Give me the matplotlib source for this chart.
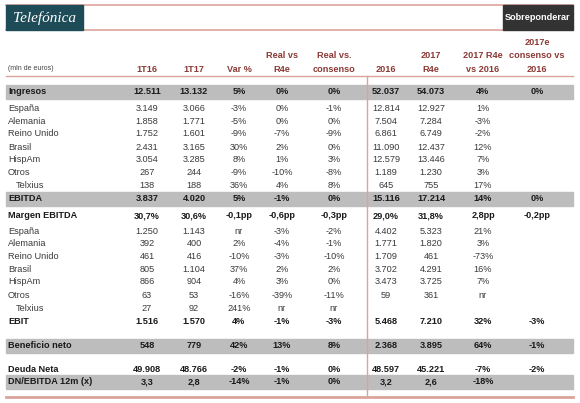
import matplotlib.pyplot as plt
from matplotlib.patches import Rectangle

# Table content (mln de euros)
labels = ['Ingresos', 'España', 'Alemania', 'Reino Unido', 'Brasil', 'HispAm', 'Otros', 'Telxius',
          'EBITDA', 'Margen EBITDA', 'España', 'Alemania', 'Reino Unido', 'Brasil', 'HispAm', 'Otros',
          'Telxius', 'EBIT', 'Beneficio neto', 'Deuda Neta', 'DN/EBITDA 12m (x)']
t16 = ['12.511', '3.149', '1.858', '1.752', '2.431', '3.054', '267', '138', '3.837', '30,7%',
       '1.250', '392', '461', '805', '866', '63', '27', '1.516', '548', '49.908', '3,3']
t17 = ['13.132', '3.066', '1.771', '1.601', '3.165', '3.285', '244', '188', '4.020', '30,6%',
       '1.143', '400', '416', '1.104', '904', '53', '92', '1.570', '779', '48.766', '2,8']
var_pct = ['5%', '-3%', '-5%', '-9%', '30%', '8%', '-9%', '36%', '5%', '-0,1pp',
           'nr', '2%', '-10%', '37%', '4%', '-16%', '241%', '4%', '42%', '-2%', '-14%']
real_r4e = ['0%', '0%', '0%', '-7%', '2%', '1%', '-10%', '4%', '-1%', '-0,6pp',
            '-3%', '-4%', '-3%', '2%', '3%', '-39%', 'nr', '-1%', '13%', '-1%', '-1%']
real_cons = ['0%', '-1%', '0%', '-9%', '0%', '3%', '-8%', '8%', '0%', '-0,3pp',
             '-2%', '-1%', '-10%', '2%', '0%', '-11%', 'nr', '-3%', '8%', '0%', '0%']
y2016 = ['52.037', '12.814', '7.504', '6.861', '11.090', '12.579', '1.189', '645', '15.116', '29,0%',
         '4.402', '1.771', '1.709', '3.702', '3.473', '59', '', '5.468', '2.368', '48.597', '3,2']
y2017 = ['54.073', '12.927', '7.284', '6.749', '12.437', '13.446', '1.230', '755', '17.214', '31,8%',
         '5.323', '1.820', '461', '4.291', '3.725', '361', '', '7.210', '3.895', '45.221', '2,6']
r4e_vs16 = ['4%', '1%', '-3%', '-2%', '12%', '7%', '3%', '17%', '14%', '2,8pp',
            '21%', '3%', '-73%', '16%', '7%', 'nr', '', '32%', '64%', '-7%', '-18%']
cons_vs16 = ['0%', '', '', '', '', '', '', '', '0%', '-0,2pp',
             '', '', '', '', '', '', '', '-3%', '-1%', '-2%', '']

headers = ['1T16', '1T17', 'Var %', 'Real vs\nR4e', 'Real vs.\nconsenso', '2016',
           '2017\nR4e', '2017 R4e\nvs 2016', '2017e\nconsenso vs\n2016']
columns = [t16, t17, var_pct, real_r4e, real_cons, y2016, y2017, r4e_vs16, cons_vs16]

bold_rows = {'Ingresos', 'EBITDA', 'Margen EBITDA', 'EBIT', 'Beneficio neto', 'Deuda Neta',
             'DN/EBITDA 12m (x)'}
gray_rows = [0, 8, 18, 20]
indent_rows = [7, 16]

# layout (pixel coordinates of the 580x403 canvas)
col_x = [147, 194, 239, 282, 334, 386, 431, 483, 537]
row_y = [92, 108.5, 121, 134, 147, 159.5, 172.5, 185.5, 198.5, 215.5, 231, 244, 256.5,
         269, 282, 295, 308.5, 322, 346, 369.5, 382]

RED = '#8b3a36'
LINE = '#dba49a'
GRAY = '#bdbdbd'

plt.rcParams['font.family'] = ['Liberation Sans', 'DejaVu Sans']

fig = plt.figure(figsize=(5.8, 4.03), dpi=100)
ax = fig.add_axes([0, 0, 1, 1])
ax.set_xlim(0, 580)
ax.set_ylim(403, 0)
ax.axis('off')

# top banner
ax.add_patch(Rectangle((6, 5), 77, 25, color='#1e4b58', zorder=2))
ax.text(44, 18, 'Telefónica', color='white', fontsize=11, style='italic',
        family='Liberation Serif', ha='center', va='center', zorder=3)
ax.add_patch(Rectangle((503, 5), 70, 25, color='#333333', zorder=2))
ax.text(538, 17.5, 'Sobreponderar', color='white', fontsize=6.6, fontweight='bold',
        ha='center', va='center', zorder=3)
ax.plot([6, 573], [5, 5], color=LINE, lw=1.2, zorder=1)
ax.plot([6, 573], [30, 30], color=LINE, lw=1.2, zorder=1)

# header
ax.text(8, 68, '(mln de euros)', fontsize=5, color='#444444', ha='left', va='center')
for x, h in zip(col_x, headers):
    ax.text(x, 74, h, fontsize=6.6, fontweight='bold', color=RED, ha='center', va='bottom',
            linespacing=1.65)
ax.plot([6, 573], [75.5, 75.5], color=LINE, lw=1.0)

# gray bands
for i in gray_rows:
    ax.add_patch(Rectangle((6, row_y[i] - 7), 567, 14, color=GRAY, zorder=0))

# body
for i, lab in enumerate(labels):
    bold = lab in bold_rows
    weight = 'bold' if bold else 'normal'
    col = '#1a1a1a' if bold else '#3a3a3a'
    lx = 16 if i in indent_rows else 8
    ax.text(lx, row_y[i], lab, fontsize=6.6, fontweight=weight, color=col, ha='left', va='center')
    for x, vals in zip(col_x, columns):
        if vals[i]:
            ax.text(x, row_y[i], vals[i], fontsize=6.6, fontweight=weight, color=col,
                    ha='center', va='center')

ax.plot([367, 367], [75.5, 397], color=LINE, lw=1.0, zorder=3)
ax.plot([6, 573], [397, 397], color=LINE, lw=2.0)

fig.savefig('out.png', dpi=100)
